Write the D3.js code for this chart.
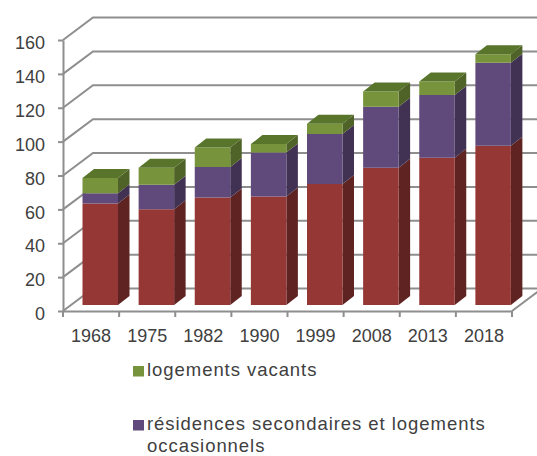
<!DOCTYPE html>
<html>
<head>
<meta charset="utf-8">
<script src="https://cdn.jsdelivr.net/npm/d3@7/dist/d3.min.js"></script>
<style>
html,body{margin:0;padding:0;background:#fff;}
svg{display:block;}
text{font-family:"Liberation Sans",sans-serif;fill:#404040;}
</style>
</head>
<body>
<svg id="chart" width="537" height="456"></svg>
<script>
const years = ["1968","1975","1982","1990","1999","2008","2013","2018"];
const principales = [60, 56.5, 63.5, 64, 71.5, 81, 87, 94];
const secondaires = [6, 14.5, 18, 26, 29.5, 36, 37, 49];
const vacants = [9, 10, 11.5, 5, 6, 9, 8, 5];
const yTicks = [0, 20, 40, 60, 80, 100, 120, 140, 160];

const seriesList = [
  {values: principales, front: "#953735", side: "#5f2321"},
  {values: secondaires, front: "#604a7b", side: "#413253"},
  {values: vacants, front: "#77933c", side: "#4f6228", top: "#58752b"}
];

const legendEntries = [
  {lines: ["logements vacants"], color: "#77933c"},
  {lines: ["résidences secondaires et logements", "occasionnels"], color: "#604a7b"}
];

const svg = d3.select("#chart");
const grey = "#8e8e8e";

const x = d3.scaleBand().domain(years).range([63, 512]);
const y = d3.scaleLinear().domain([0, 160]).range([311, 40]);

// Oblique offsets: the back wall, and the depth of a bar
const wallDx = 30, wallDy = -22.5;
const barDx = 11.5, barDy = -9;
const barInset = 19.5, barWidth = 35.5, barLift = 6;

// Floor and wall lines
const walls = svg.append("g").attr("fill", "none").attr("stroke", grey).attr("stroke-width", 2);
yTicks.forEach(t => {
  walls.append("path").attr("d", d3.line()([
    [x.range()[0], y(t)],
    [x.range()[0] + wallDx, y(t) + wallDy],
    [537, y(t) + wallDy]
  ]));
});
walls.append("path").attr("d", d3.line()([
  [x.range()[1], y(0)],
  [x.range()[1] + wallDx, y(0) + wallDy]
]));

// Stacked bars, painted from the bottom segment upward
const stacked = years.map((yr, i) => {
  let sum = 0;
  return seriesList.map(s => {
    const seg = {yr, y0: sum, y1: sum + s.values[i], s};
    sum = seg.y1;
    return seg;
  });
});

const poly = pts => d3.line()(pts) + "Z";
const bars = svg.append("g").selectAll("g").data(stacked).join("g");
bars.each(function(segs) {
  const g = d3.select(this);
  const xl = x(segs[0].yr) + barInset, xr = xl + barWidth;
  segs.forEach(seg => {
    const yb = y(seg.y0) - barLift, yt = y(seg.y1) - barLift;
    g.append("path").attr("fill", seg.s.side).attr("d", poly([
      [xr, yb], [xr + barDx, yb + barDy], [xr + barDx, yt + barDy], [xr, yt]
    ]));
    g.append("path").attr("fill", seg.s.front).attr("d", poly([
      [xl, yb], [xr, yb], [xr, yt], [xl, yt]
    ]));
    if (seg.s.top) {
      g.append("path").attr("fill", seg.s.top).attr("d", poly([
        [xl, yt], [xr, yt], [xr + barDx, yt + barDy], [xl + barDx, yt + barDy]
      ]));
    }
  });
});

// Axes
const yAxis = svg.append("g").attr("transform", `translate(${x.range()[0]},0)`)
  .call(d3.axisLeft(y).tickValues(yTicks).tickSize(5).tickPadding(13).tickSizeOuter(0));
yAxis.select(".domain").attr("stroke", grey).attr("stroke-width", 2);
yAxis.selectAll("line").attr("stroke", grey).attr("stroke-width", 2);
yAxis.selectAll("text").attr("font-size", 18).attr("dy", "0.48em");

const xAxis = svg.append("g").attr("transform", `translate(0,${y(0)})`)
  .call(d3.axisBottom(x).tickSize(0).tickPadding(18).tickSizeOuter(0));
xAxis.select(".domain").attr("stroke", grey).attr("stroke-width", 2);
xAxis.selectAll("text").attr("font-size", 18);

// Category boundary ticks under the floor line
svg.append("g").selectAll("line")
  .data(d3.range(years.length + 1))
  .join("line")
  .attr("x1", i => x.range()[0] + i * x.step())
  .attr("x2", i => x.range()[0] + i * x.step())
  .attr("y1", y(0))
  .attr("y2", y(0) + 6)
  .attr("stroke", grey)
  .attr("stroke-width", 2);

// Legend
const legendTop = [366, 420];
const legend = svg.append("g").selectAll("g").data(legendEntries).join("g")
  .attr("transform", (d, i) => `translate(133,${legendTop[i]})`);
legend.append("rect").attr("width", 11).attr("height", 10.5).attr("fill", d => d.color);
legend.each(function(d) {
  d3.select(this).selectAll("text").data(d.lines).join("text")
    .attr("x", 14)
    .attr("y", (l, i) => 10 + i * 22)
    .attr("font-size", 18.5)
    .style("letter-spacing", "0.95px")
    .text(l => l);
});
</script>
</body>
</html>
